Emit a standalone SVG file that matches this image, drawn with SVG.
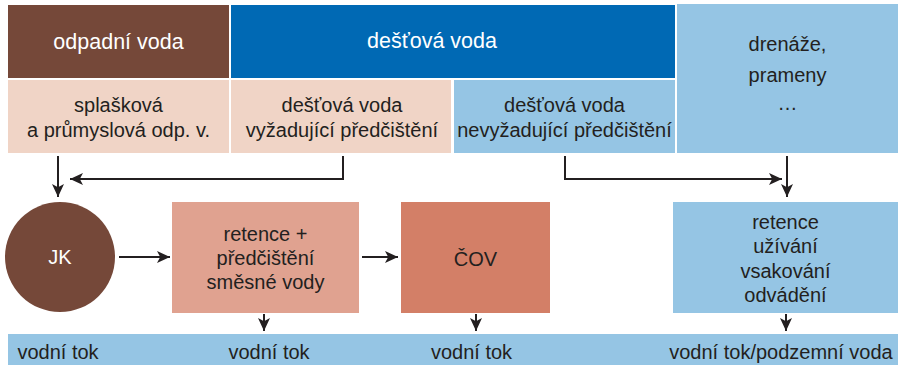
<svg xmlns="http://www.w3.org/2000/svg" width="903" height="366" viewBox="0 0 903 366">
<style>
text{font-family:"Liberation Sans",Arial,sans-serif;font-size:20px;fill:#231f20;text-anchor:middle}
.hd{font-size:21.5px;fill:#ffffff}
.wt{fill:#ffffff}
.ln{fill:none;stroke:#231f20;stroke-width:2}
</style>
<defs>
<marker id="ah" markerUnits="userSpaceOnUse" markerWidth="15" markerHeight="13" refX="13" refY="6" orient="auto">
<path d="M0,0 L13,6 L0,12 L3.2,6 Z" fill="#231f20"/>
</marker>
</defs>
<rect x="0" y="0" width="903" height="366" fill="#ffffff"/>
<g id="odpadni-voda"><rect x="8" y="5" width="221" height="73" fill="#754839"/><text class="hd" x="118.5" y="49">odpadní voda</text></g>
<g id="destova-voda"><rect x="231" y="5" width="444" height="73" fill="#0069b4"/><text class="hd" x="432" y="48">dešťová voda</text></g>
<g id="drenaze"><rect x="677" y="4" width="221" height="149" fill="#95c5e4"/><text x="787.5" y="51">drenáže,</text><text x="787.5" y="82">prameny</text><text x="787.5" y="110">…</text></g>
<g id="splaskova"><rect x="8" y="80" width="221" height="73" fill="#f0d4c6"/><text x="118.5" y="112">splašková</text><text x="118.5" y="137">a průmyslová odp. v.</text></g>
<g id="destova-vyzadujici"><rect x="231" y="80" width="220" height="73" fill="#f0d4c6"/><text x="342" y="112">dešťová voda</text><text x="342" y="137">vyžadující předčištění</text></g>
<g id="destova-nevyzadujici"><rect x="454" y="80" width="221" height="73" fill="#95c5e4"/><text x="564.5" y="112">dešťová voda</text><text x="564.5" y="137">nevyžadující předčištění</text></g>
<g id="jk"><circle cx="60" cy="257" r="55" fill="#754839"/><text class="wt" x="60" y="264">JK</text></g>
<g id="retence-predcisteni"><rect x="172" y="202" width="187" height="111" fill="#e0a290"/><text x="265.5" y="241">retence +</text><text x="265.5" y="265">předčištění</text><text x="265.5" y="289">směsné vody</text></g>
<g id="cov"><rect x="401" y="202" width="149" height="111" fill="#d37f67"/><text x="475.5" y="266">ČOV</text></g>
<g id="retence-uzivani"><rect x="673" y="202" width="225" height="111" fill="#95c5e4"/><text x="785.5" y="229">retence</text><text x="785.5" y="253">užívání</text><text x="785.5" y="278">vsakování</text><text x="785.5" y="302">odvádění</text></g>
<g id="vodni-tok"><rect x="8" y="334" width="890" height="31" fill="#95c5e4"/><text x="58" y="359">vodní tok</text><text x="269" y="359">vodní tok</text><text x="471.5" y="359">vodní tok</text><text x="781" y="359">vodní tok/podzemní voda</text></g>
<g id="connectors">
<path class="ln" d="M58,156 V197" marker-end="url(#ah)"/>
<path class="ln" d="M343,156 V179 H70" marker-end="url(#ah)"/>
<path class="ln" d="M565,156 V179 H782" marker-end="url(#ah)"/>
<path class="ln" d="M787,156 V197" marker-end="url(#ah)"/>
<path class="ln" d="M119,257 H170" marker-end="url(#ah)"/>
<path class="ln" d="M362,257 H398" marker-end="url(#ah)"/>
<path class="ln" d="M264,314 V331" marker-end="url(#ah)"/>
<path class="ln" d="M476,314 V331" marker-end="url(#ah)"/>
<path class="ln" d="M786,314 V331" marker-end="url(#ah)"/>
</g>
</svg>
